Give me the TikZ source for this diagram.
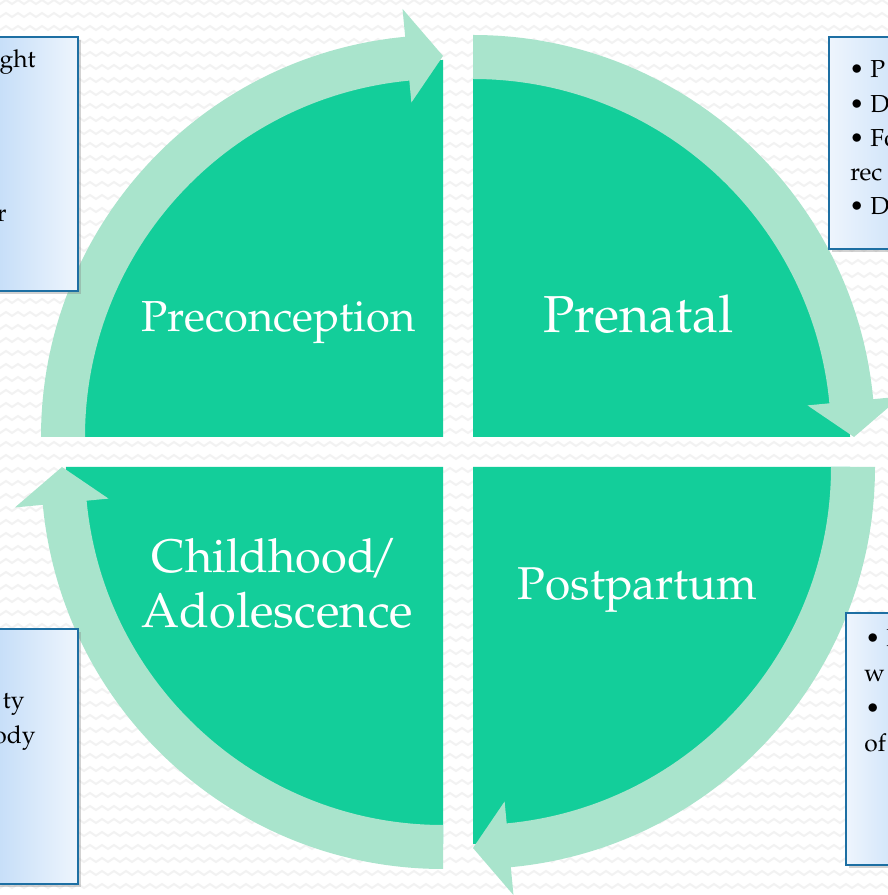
\documentclass[tikz,border=0pt]{standalone}
\usepackage[T1]{fontenc}
\usepackage{mathpazo}
\usetikzlibrary{shadows}
\definecolor{piegreen}{RGB}{19,206,154}
\definecolor{ringgreen}{RGB}{169,228,204}
\definecolor{boxline}{RGB}{29,111,163}
\definecolor{boxblue}{RGB}{196,221,248}
\definecolor{boxpale}{RGB}{238,245,253}
\definecolor{zigzag}{RGB}{242,242,242}
\tikzset{
  pie/.style={fill=piegreen},
  ring/.style={fill=ringgreen},
  notebox/.style={draw=boxline,line width=1pt,drop shadow={opacity=.35,shadow xshift=1.5pt,shadow yshift=-1.5pt}},
  label/.style={text=white,inner sep=0},
  notetext/.style={inner sep=0,font=\fontsize{12.3}{14}\selectfont}
}
% one arrow of the ring: corner, start angle
\newcommand{\ringarrow}[2]{%
\fill[ring,shift={(#1)}](#2:402)arc[start angle=#2,end angle=#2-84.6,radius=402]
  --(#2-84.6:430)--(#2-90:381)--(#2-84.6:336)--(#2-84.6:358)
  arc[start angle=#2-84.6,end angle=#2,radius=358]--cycle;}
\begin{document}
\begin{tikzpicture}[x=0.5pt,y=0.5pt]
\useasboundingbox(0,0)rectangle(888,895);
\clip(0,0)rectangle(888,895);
\fill[white](0,0)rectangle(888,895);
\foreach \r in {0,...,69}
  \draw[zigzag,line width=1pt](-6,{895-\r*13})\foreach \i in {0,...,75}{--++(6,-4)--++(6,4)};
\coordinate(TL)at(443,458);
\coordinate(TR)at(473,458);
\coordinate(BR)at(473,428);
\coordinate(BL)at(443,428);
\fill[pie](TL)--++(180:377)arc[start angle=180,end angle=90,radius=377]--cycle;
\fill[pie](TR)--++(90:377)arc[start angle=90,end angle=0,radius=377]--cycle;
\fill[pie](BR)--++(0:377)arc[start angle=0,end angle=-90,radius=377]--cycle;
\fill[pie](BL)--++(270:377)arc[start angle=270,end angle=180,radius=377]--cycle;
\ringarrow{TL}{180}
\ringarrow{TR}{90}
\ringarrow{BR}{0}
\ringarrow{BL}{270}
\node[label,anchor=base,font=\fontsize{21.7}{26}\selectfont](pre)at(278.5,563){Preconception};
\node[label,anchor=base,font=\fontsize{26}{31}\selectfont](nat)at(638.5,562){Prenatal};
\node[label,anchor=base,font=\fontsize{23}{28}\selectfont](post)at(637.5,295){Postpartum};
\node[label,anchor=base,font=\fontsize{23.5}{28}\selectfont](child)at(275,322){Childhood\kern-3pt/};
\node[label,anchor=base,font=\fontsize{24.4}{29}\selectfont](adol)at(277.5,267){Adolescence};
% side notes, cut by the page edge
\draw[notebox,left color=boxblue,right color=boxpale](-6,604)rectangle(78,858);
\draw[notebox,left color=boxblue,right color=boxpale](-6,11)rectangle(78,266);
\draw[notebox,left color=boxpale,right color=boxblue!70!boxpale](829,646)rectangle(895,858);
\draw[notebox,left color=boxpale,right color=boxblue!70!boxpale](846,30)rectangle(895,282);
\node[notetext,anchor=base east](tl1)at(36,827){ght};
\node[notetext,anchor=base east](tl2)at(7,673){r};
\node[notetext,anchor=base east](bl1)at(25,186){ty};
\node[notetext,anchor=base east](bl2)at(36,151){ody};
\node[notetext,anchor=base west](tr1)at(849,817){\textbullet\ P};
\node[notetext,anchor=base west](tr2)at(849,782){\textbullet\ D};
\node[notetext,anchor=base west](tr3)at(849,748){\textbullet\ Fo};
\node[notetext,anchor=base west](tr4)at(850,714){rec};
\node[notetext,anchor=base west](tr5)at(849,680){\textbullet\ D};
\node[notetext,anchor=base west](br1)at(865,248){\textbullet\ I};
\node[notetext,anchor=base west](br2)at(864,213){w};
\node[notetext,anchor=base west](br3)at(865,178){\textbullet};
\node[notetext,anchor=base west](br4)at(864,143){of};
\end{tikzpicture}
\end{document}
